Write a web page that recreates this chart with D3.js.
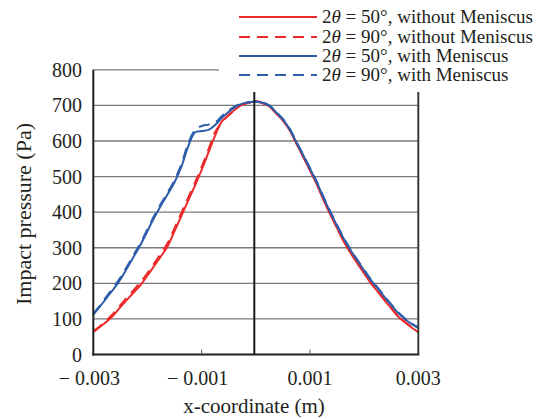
<!DOCTYPE html>
<html><head><meta charset="utf-8">
<script src="https://cdn.jsdelivr.net/npm/d3@7"></script>
<style>body{margin:0;background:#fff}svg{display:block}text{font-family:"Liberation Serif","Times New Roman",serif;fill:#231f20}</style>
</head><body><svg id="c" width="540" height="419"></svg>
<script>
const xs = d3.range(49).map(i => -0.003 + i * 0.000125);
const red50 = [63,78,93,111,133,154,175,196,222,249,276,305,347,389,432,474,519,567,616,655,672,689,702,707,711,
  706,697,677,657,630,592,555,517,478,434,393,355,317,285,256,228,200,177,153,130,107,91,76,63];
const red90 = [65,80,97,116,139,160,182,204,229,256,284,314,355,398,440,482,527,576,625,652,674,691,703,708,712,
  707,698,679,659,632,595,558,519,480,437,396,357,320,287,258,230,202,178,154,131,109,92,77,64];
const blue50 = [112,135,160,184,211,243,276,309,347,385,419,451,484,527,584,624,628,631,645,665,682,696,705,709,710,
  707,699,680,660,633,596,560,522,484,441,400,362,325,293,264,236,209,186,162,139,117,100,86,74];
const blue90 = [114,138,164,189,216,248,281,314,352,390,424,456,490,534,592,630,642,646,652,670,686,698,706,709,711,
  708,700,682,662,635,598,562,524,486,443,402,364,327,295,266,238,211,188,164,141,119,102,88,76];
const seriesNames = ["without Meniscus","without Meniscus","with Meniscus","with Meniscus"];
const angles = ["50","90","50","90"];
const colors = ["#ec2a2a","#ec2a2a","#2c5daa","#2c5daa"];
const dashes = [null,"11,7",null,"11,7"];
const yTicks = [0,100,200,300,400,500,600,700,800];
const xTicks = [-0.003,-0.001,0.001,0.003];
const xTickLabels = ["\u2212 0.003","\u2212 0.001","0.001","0.003"];

const svg = d3.select("#c");
const x = d3.scaleLinear().domain([-0.003,0.003]).range([93.3,418.3]);
const y = d3.scaleLinear().domain([0,800]).range([354.5,69.8]);

// gridlines
svg.append("g").selectAll("line").data(yTicks.filter(d=>d>0)).join("line")
  .attr("x1",x(-0.003)).attr("x2",x(0.003)).attr("y1",d=>y(d)).attr("y2",d=>y(d))
  .attr("stroke","#7a7a7a").attr("stroke-width",1.3);

// series
const allData = [red50, red90, blue50, blue90];
const line = d3.line().x((d,i)=>x(xs[i])).y(d=>y(d)).curve(d3.curveCatmullRom);
allData.forEach((arr,k)=>{
  svg.append("path").datum(arr).attr("d",line).attr("fill","none")
    .attr("stroke",colors[k]).attr("stroke-width",2).attr("stroke-dasharray",dashes[k]);
});

// axes lines
svg.append("line").attr("x1",x(-0.003)).attr("x2",x(-0.003)).attr("y1",y(800)).attr("y2",y(0)+1).attr("stroke","#231f20").attr("stroke-width",2);
svg.append("line").attr("x1",x(-0.003)-1).attr("x2",x(0.003)+1).attr("y1",y(0)).attr("y2",y(0)).attr("stroke","#231f20").attr("stroke-width",2);
svg.append("line").attr("x1",x(0.003)).attr("x2",x(0.003)).attr("y1",y(800)).attr("y2",y(0)).attr("stroke","#3a3a3a").attr("stroke-width",2);
svg.append("line").attr("x1",x(0)-1.5).attr("x2",x(0)-1.5).attr("y1",y(800)).attr("y2",y(0)).attr("stroke","#1a1a1a").attr("stroke-width",2);
// x small ticks
svg.append("g").selectAll("line").data([-0.001,0.001]).join("line")
  .attr("x1",d=>x(d)).attr("x2",d=>x(d)).attr("y1",y(0)).attr("y2",y(0)-5).attr("stroke","#555").attr("stroke-width",1);

// legend background
svg.append("rect").attr("x",219).attr("y",0).attr("width",321).attr("height",92).attr("fill","#fff");

// y tick labels
svg.append("g").selectAll("text").data(yTicks).join("text")
  .attr("x",82).attr("y",d=>y(d)).attr("dy","0.35em").attr("text-anchor","end")
  .attr("font-size",20).text(d=>d);
// x tick labels
svg.append("g").selectAll("text").data(xTicks).join("text")
  .attr("x",(d,i)=>x(d)-(i<2?4:0)).attr("y",385).attr("text-anchor","middle")
  .attr("font-size",20).text((d,i)=>xTickLabels[i]);
// titles
svg.append("text").attr("x",254).attr("y",413).attr("text-anchor","middle").attr("font-size",21).text("x-coordinate (m)");
svg.append("text").attr("transform","translate(31,214) rotate(-90)").attr("text-anchor","middle").attr("font-size",22).text("Impact pressure (Pa)");

// legend
const ly = [17,37,56,75];
const lg = svg.append("g");
allData.forEach((arr,k)=>{
  lg.append("line").attr("x1",239).attr("x2",317).attr("y1",ly[k]).attr("y2",ly[k])
    .attr("stroke",colors[k]).attr("stroke-width",2).attr("stroke-dasharray",dashes[k]);
  const t = lg.append("text").attr("x",322).attr("y",ly[k]).attr("dy","0.33em").attr("font-size",19);
  t.append("tspan").text("2");
  t.append("tspan").attr("font-style","italic").text("\u03b8");
  t.append("tspan").text(" = "+angles[k]+"\u00b0, "+seriesNames[k]);
});
</script></body></html>
